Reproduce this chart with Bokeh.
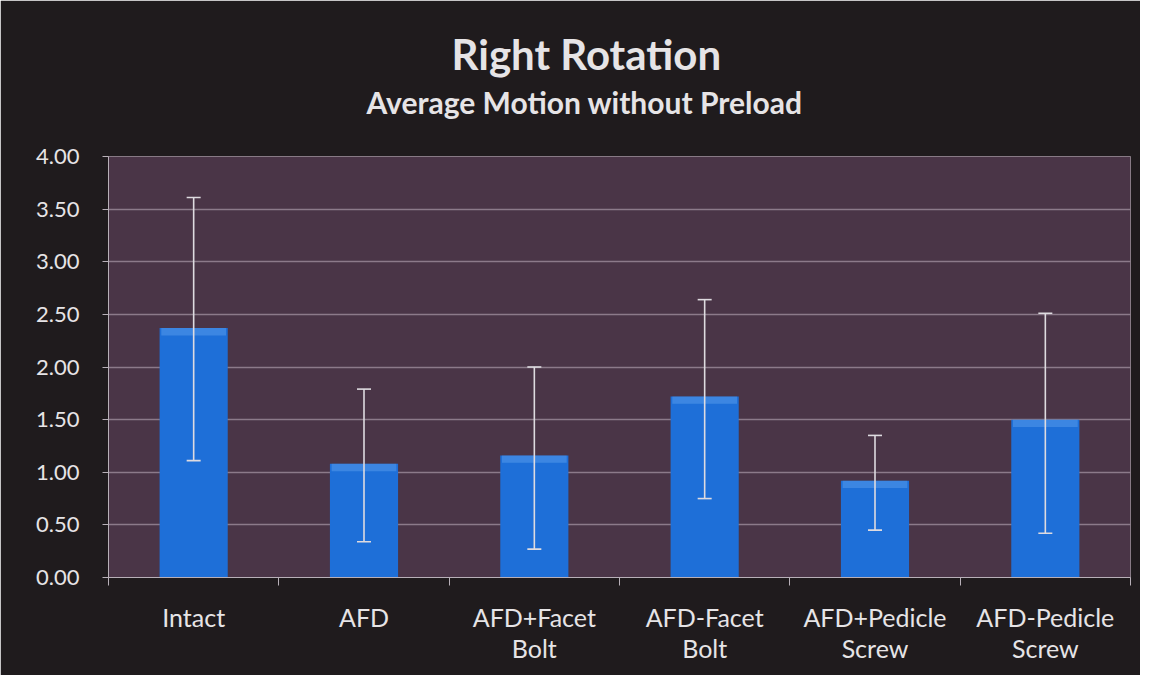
from bokeh.plotting import figure
from bokeh.models import (ColumnDataSource, Whisker, TeeHead, FixedTicker, Range1d,
                          NumeralTickFormatter, Title)
from bokeh.embed import file_html
from bokeh.resources import INLINE

categories = ["Intact", "AFD", "AFD+Facet\nBolt", "AFD-Facet\nBolt", "AFD+Pedicle\nScrew", "AFD-Pedicle\nScrew"]
means = [2.37, 1.08, 1.16, 1.72, 0.92, 1.50]
err_upper = [3.61, 1.79, 2.00, 2.64, 1.35, 2.51]
err_lower = [1.11, 0.34, 0.27, 0.75, 0.45, 0.42]
y_ticks = [0.0, 0.5, 1.0, 1.5, 2.0, 2.5, 3.0, 3.5, 4.0]

xs = [i + 0.5 for i in range(len(categories))]
hl_bottom = [m - 0.07 for m in means]
src = ColumnDataSource(dict(x=xs, top=means, up=err_upper, lo=err_lower, hb=hl_bottom))

BG = "#1f1b1d"
PLOT_BG = "#4a3547"
TXT = "#e6e4e6"
FONT = "Lato"

p = figure(width=1140, height=675, output_backend="svg", toolbar_location=None,
           x_range=Range1d(0, len(categories)), y_range=Range1d(0, 4),
           background_fill_color=PLOT_BG, border_fill_color=BG,
           min_border_left=108, min_border_right=10, min_border_bottom=98, min_border_top=156)
p.outline_line_color = "#9a8c98"
p.outline_line_alpha = 0.6

spacer = Title(text=" ", align="left", text_color=BG, text_font=FONT,
               text_font_size="8px", standoff=25)
sub = Title(text="Average Motion without Preload", align="left", text_color=TXT,
            text_font=FONT, text_font_size="30px", text_font_style="bold", offset=258, standoff=0)
main = Title(text="Right Rotation", align="left", text_color=TXT,
             text_font=FONT, text_font_size="42px", text_font_style="bold", offset=343, standoff=6)
p.add_layout(spacer, "above")
p.add_layout(sub, "above")
p.add_layout(main, "above")

p.vbar(x="x", top="top", width=0.4, bottom=0, source=src, fill_color="#1e6fd8", line_color=None)
p.vbar(x="x", top="top", bottom="hb", width=0.38, source=src, fill_color="#6aaaf2",
       fill_alpha=0.4, line_color=None)

whisk = Whisker(base="x", upper="up", lower="lo", source=src, line_color="#dedbe0",
                line_width=1.6, level="overlay",
                upper_head=TeeHead(size=14, line_color="#dedbe0", line_width=1.6),
                lower_head=TeeHead(size=14, line_color="#dedbe0", line_width=1.6))
p.add_layout(whisk)

# y axis
p.yaxis.ticker = FixedTicker(ticks=y_ticks)
p.yaxis.formatter = NumeralTickFormatter(format="0.00")
p.yaxis.major_label_text_color = TXT
p.yaxis.major_label_text_font = FONT
p.yaxis.major_label_text_font_size = "22px"
p.yaxis.axis_line_color = "#b8b0b8"
p.yaxis.major_tick_line_color = "#b8b0b8"
p.yaxis.major_tick_out = 6
p.yaxis.major_tick_in = 0
p.yaxis.minor_tick_line_color = None
p.yaxis.major_label_standoff = 23

# x axis
p.xaxis.ticker = FixedTicker(ticks=xs, minor_ticks=list(range(len(categories) + 1)))
p.xaxis.major_label_overrides = {x: c for x, c in zip(xs, categories)}
p.xaxis.major_label_text_color = TXT
p.xaxis.major_label_text_font = FONT
p.xaxis.major_label_text_font_size = "25px"
p.xaxis.major_label_text_line_height = 1.05
p.xaxis.major_label_standoff = 16
p.xaxis.major_tick_line_color = None
p.xaxis.minor_tick_line_color = "#b8b0b8"
p.xaxis.minor_tick_out = 8
p.xaxis.minor_tick_in = 0
p.xaxis.axis_line_color = "#b8b0b8"

p.xgrid.grid_line_color = None
p.ygrid.ticker = FixedTicker(ticks=y_ticks)
p.ygrid.grid_line_color = "#a898a6"
p.ygrid.grid_line_alpha = 0.7
p.ygrid.grid_line_width = 1.5

open("out.html", "w").write(file_html(p, INLINE))
